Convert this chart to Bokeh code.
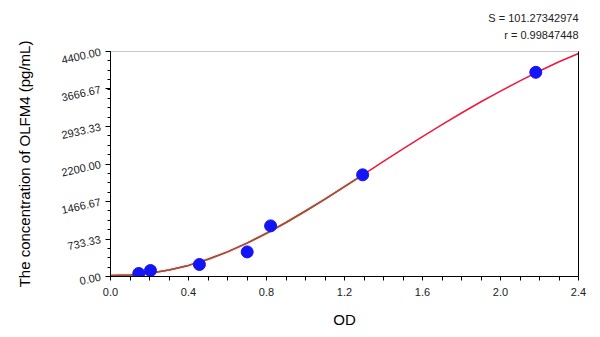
from bokeh.plotting import figure
from bokeh.models import Range1d, FixedTicker, LinearAxis, Title
from bokeh.embed import file_html
from bokeh.resources import INLINE

# measured points (OD, concentration)
od = [0.145, 0.205, 0.456, 0.701, 0.821, 1.293, 2.181]
conc = [59, 117, 235, 481, 990, 1988, 3993]

# fitted standard curve
curve_x = [0.0, 0.1, 0.2, 0.3, 0.4, 0.5, 0.6, 0.7, 0.8, 0.9, 1.0, 1.1, 1.2,
           1.3, 1.4, 1.5, 1.6, 1.7, 1.8, 1.9, 2.0, 2.1, 2.2, 2.3, 2.4]
curve_y = [20, 30, 64, 126, 217, 336, 482, 653, 845, 1056, 1281, 1515, 1758,
           2004, 2250, 2495, 2735, 2970, 3197, 3417, 3626, 3827, 4018, 4200, 4360]
fit_end_index = 13  # brown part runs up to x = 1.3

x_ticks = [0.0, 0.4, 0.8, 1.2, 1.6, 2.0, 2.4]
x_tick_labels = ["0.0", "0.4", "0.8", "1.2", "1.6", "2.0", "2.4"]
x_minor = [0.1, 0.2, 0.3, 0.5, 0.6, 0.7, 0.9, 1.0, 1.1, 1.3, 1.4, 1.5,
           1.7, 1.8, 1.9, 2.1, 2.2, 2.3]
y_ticks = [0.0, 733.333, 1466.667, 2200.0, 2933.333, 3666.667, 4400.0]
y_tick_labels = ["0.00", "733.33", "1466.67", "2200.00", "2933.33", "3666.67", "4400.00"]

stats_s = "S = 101.27342974"
stats_r = "r = 0.99847448"

FONT = "Liberation Sans"
band = 45

p = figure(width=600, height=337, output_backend="svg", toolbar_location=None,
           x_range=Range1d(0, 2.4), y_range=Range1d(0, 4400),
           min_border_left=110, min_border_right=22, min_border_bottom=61,
           min_border_top=51)
p.background_fill_color = "white"
p.border_fill_color = "white"
p.outline_line_color = "#c8c8c8"
p.xgrid.visible = False
p.ygrid.visible = False

# stats text above the frame: a small spacer panel, then r, then S
p.add_layout(Title(text=" ", text_font_size="6px", standoff=0), "above")
p.add_layout(Title(text=stats_r, align="right", text_font=FONT, text_font_size="11px",
                   text_font_style="normal", text_color="#222222",
                   standoff=6, offset=0), "above")
p.add_layout(Title(text=stats_s, align="right", text_font=FONT, text_font_size="11px",
                   text_font_style="normal", text_color="#222222",
                   standoff=0, offset=0), "above")

# faint band along fitted part
bx = curve_x[:fit_end_index + 1]
by = curve_y[:fit_end_index + 1]
p.varea(x=bx, y1=[v - band for v in by], y2=[v + band for v in by],
        fill_color="#fde9f4", fill_alpha=0.8)

p.line(curve_x, curve_y, line_color="#f0183c", line_width=1.5)
p.line(bx, by, line_color="#8f5a2e", line_width=1.5)
p.scatter(od, conc, size=12, fill_color="#1414f5", line_color="#1414f5")

# axes
xa = p.xaxis[0]
xa.ticker = FixedTicker(ticks=x_ticks, minor_ticks=x_minor)
xa.major_label_overrides = {t: l for t, l in zip(x_ticks, x_tick_labels)}
xa.axis_label = "OD"
ya = p.yaxis[0]
ya.ticker = FixedTicker(ticks=y_ticks, minor_ticks=[i * 183.333 for i in range(25)])
ya.major_label_overrides = {t: l for t, l in zip(y_ticks, y_tick_labels)}
ya.axis_label = "The concentration of OLFM4 (pg/mL)"
ya.major_label_orientation = 0.22

for ax in (xa, ya):
    ax.axis_line_color = "black"
    ax.axis_line_width = 1
    ax.major_tick_line_color = "black"
    ax.minor_tick_line_color = "black"
    ax.major_tick_in = 0
    ax.minor_tick_in = 0
    ax.major_label_text_font = FONT
    ax.major_label_text_font_size = "11px"
    ax.major_label_text_color = "#222222"
    ax.axis_label_text_font = FONT
    ax.axis_label_text_font_size = "15px"
    ax.axis_label_text_font_style = "normal"
    ax.axis_label_text_color = "black"

xa.major_tick_out = 4
xa.minor_tick_out = 4
xa.major_label_standoff = 7
xa.axis_label_standoff = 12
ya.major_tick_out = 5
ya.minor_tick_out = 3
ya.major_label_standoff = 5
ya.axis_label_standoff = 24

ra = LinearAxis(ticker=FixedTicker(ticks=[]), major_label_text_font_size="0px",
                axis_line_color="black", major_tick_line_color=None,
                minor_tick_line_color=None)
p.add_layout(ra, "right")

open("out.html", "w").write(file_html(p, INLINE))
